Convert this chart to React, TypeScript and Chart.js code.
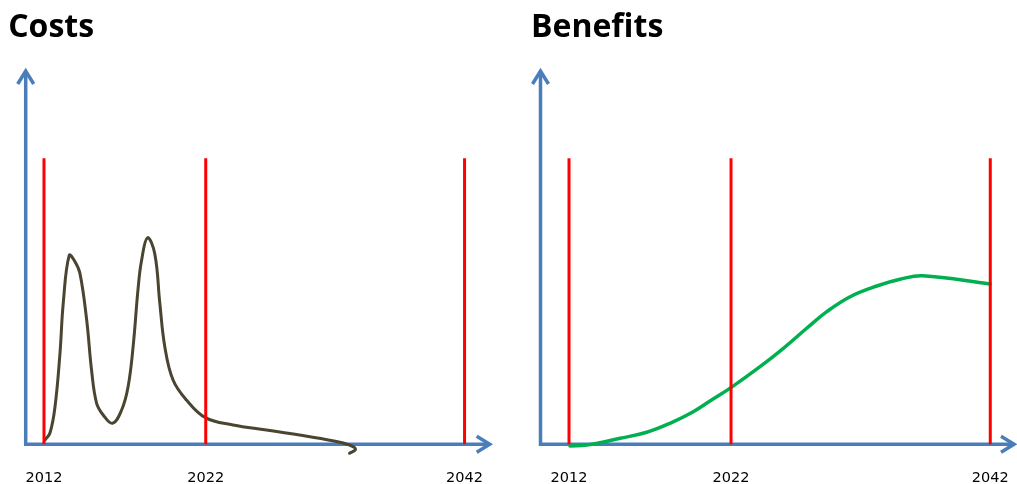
import React, { useEffect, useRef } from 'react';
import { Chart, registerables } from 'chart.js';

Chart.register(...registerables);

// ---- data ----
const tickLabels = ['2012', '2022', '2042'];
const tickPositions = [0, 10, 26];
const redLineTop = 76;

const costX = [0.06, 0.37, 0.68, 0.99, 1.19, 1.56, 1.91, 2.22, 2.64, 2.94, 3.25, 3.66, 4.24, 4.8, 5.2, 5.51, 5.82, 6.03, 6.4, 6.85, 7.16, 7.47, 7.98, 8.81, 9.98, 11.69, 13.75, 15.8, 17.84, 18.89, 19.26, 18.89];
const costY = [1.14, 3.0, 9.92, 24.26, 37.47, 50.2, 48.6, 45.5, 33.03, 19.74, 10.97, 7.79, 5.58, 9.12, 15.31, 25.94, 41.5, 48.8, 54.9, 50.6, 37.55, 25.94, 17.09, 11.77, 7.07, 5.13, 3.8, 2.47, 0.96, -0.19, -1.33, -2.39];

const benefitX = [0.06, 1.09, 3.15, 4.8, 6.23, 7.67, 8.7, 10.04, 11.79, 13.23, 14.67, 15.91, 17.35, 19.0, 20.43, 21.83, 25.99];
const benefitY = [-0.45, -0.19, 1.59, 3.19, 5.58, 8.66, 11.5, 15.2, 20.62, 25.51, 30.83, 35.24, 39.22, 42.07, 43.85, 44.8, 42.6];

const axisArrows = {
  id: 'axisArrows',
  beforeDatasetsDraw(chart: any) {
    const { ctx, chartArea } = chart;
    const { left, right, top, bottom } = chartArea;
    const inset = 3;
    const d = 13;
    const s = 8;
    ctx.save();
    ctx.strokeStyle = '#4A7EBB';
    ctx.lineWidth = 3.5;
    ctx.lineJoin = 'miter';
    ctx.lineCap = 'butt';
    ctx.beginPath();
    ctx.moveTo(left, top + inset);
    ctx.lineTo(left, bottom);
    ctx.lineTo(right - inset, bottom);
    ctx.stroke();
    ctx.beginPath();
    ctx.moveTo(left - s, top + inset + d);
    ctx.lineTo(left, top + inset);
    ctx.lineTo(left + s, top + inset + d);
    ctx.moveTo(right - inset - d, bottom - s);
    ctx.lineTo(right - inset, bottom);
    ctx.lineTo(right - inset - d, bottom + s);
    ctx.stroke();
    ctx.restore();
  },
};

type PanelCfg = {
  title: string;
  xs: number[];
  ys: number[];
  color: string;
  lineWidth: number;
  xMin: number;
  xMax: number;
  padLeft: number;
  yAxisWidth: number;
  padRight: number;
};

function makeChart(canvas: HTMLCanvasElement, cfg: PanelCfg) {
  const redSets = tickPositions.map((p) => ({
    data: [
      { x: p, y: 0 },
      { x: p, y: redLineTop },
    ],
    borderColor: '#FF0000',
    borderWidth: 3,
    pointRadius: 0,
    tension: 0,
    clip: false as any,
  }));
  const curve = {
    data: cfg.xs.map((x, i) => ({ x, y: cfg.ys[i] })),
    borderColor: cfg.color,
    borderWidth: cfg.lineWidth,
    pointRadius: 0,
    tension: 0.4,
    cubicInterpolationMode: 'default',
    clip: false as any,
    borderCapStyle: 'round',
    borderJoinStyle: 'round',
  };
  return new Chart(canvas, {
    type: 'line',
    data: { datasets: [...redSets, curve] as any },
    options: {
      responsive: false,
      animation: false,
      devicePixelRatio: 1,
      layout: { padding: { left: cfg.padLeft, right: cfg.padRight, top: 0, bottom: 0 } },
      plugins: {
        legend: { display: false },
        tooltip: { enabled: false },
        title: {
          display: true,
          text: cfg.title,
          align: 'start',
          color: '#000000',
          font: { family: '"Open Sans", sans-serif', size: 32, weight: 'bold', lineHeight: 1.2 },
          padding: { top: 8.8, bottom: 20.8 },
        },
      },
      scales: {
        x: {
          type: 'linear',
          min: cfg.xMin,
          max: cfg.xMax,
          grid: { display: false, drawTicks: false },
          border: { display: false },
          afterBuildTicks: (scale: any) => {
            scale.ticks = tickPositions.map((v) => ({ value: v }));
          },
          afterFit: (scale: any) => {
            scale.height = 39.7;
            scale.paddingLeft = 0;
            scale.paddingRight = 0;
            scale.paddingTop = 0;
            scale.paddingBottom = 0;
          },
          ticks: {
            autoSkip: false,
            maxRotation: 0,
            padding: 25.4,
            color: '#000000',
            font: { family: '"DejaVu Sans", sans-serif', size: 14.5, lineHeight: 1.2 },
            callback: (value: any) => {
              const i = tickPositions.indexOf(Number(value));
              return i >= 0 ? tickLabels[i] : '';
            },
          },
        },
        y: {
          type: 'linear',
          min: 0,
          max: 100,
          grid: { display: false, drawTicks: false },
          border: { display: false },
          ticks: { display: false },
          afterFit: (scale: any) => {
            scale.width = cfg.yAxisWidth;
            scale.paddingTop = 0;
            scale.paddingBottom = 0;
          },
        },
      },
    } as any,
    plugins: [axisArrows],
  });
}

export default function App() {
  const leftRef = useRef<HTMLCanvasElement>(null);
  const rightRef = useRef<HTMLCanvasElement>(null);

  useEffect(() => {
    const a = makeChart(leftRef.current!, {
      title: 'Costs',
      xs: costX,
      ys: costY,
      color: '#4A4531',
      lineWidth: 3,
      xMin: -1.13,
      xMax: 27.74,
      padLeft: 8.2,
      yAxisWidth: 17.5,
      padRight: 15.3,
    });
    const b = makeChart(rightRef.current!, {
      title: 'Benefits',
      xs: benefitX,
      ys: benefitY,
      color: '#00B050',
      lineWidth: 3.5,
      xMin: -1.76,
      xMax: 27.65,
      padLeft: 23,
      yAxisWidth: 9.5,
      padRight: 0,
    });
    return () => {
      a.destroy();
      b.destroy();
    };
  }, []);

  return (
    <div style={{ position: 'absolute', left: 0, top: 0, width: 1017, height: 484, background: '#ffffff', overflow: 'hidden' }}>
      <canvas ref={leftRef} width={508} height={484} style={{ position: 'absolute', left: 0, top: 0 }} />
      <canvas ref={rightRef} width={509} height={484} style={{ position: 'absolute', left: 508, top: 0 }} />
    </div>
  );
}
